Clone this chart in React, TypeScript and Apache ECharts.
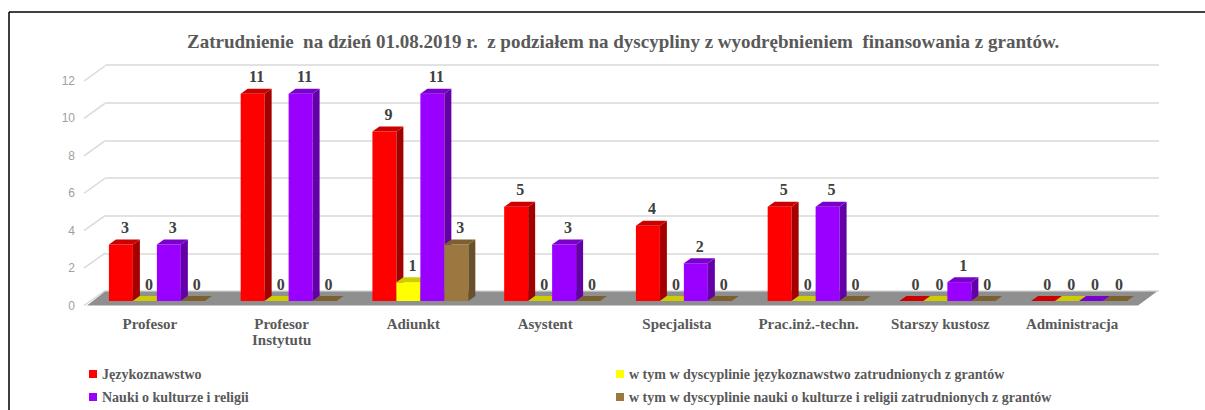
import React, { useEffect, useRef } from "react";
import * as echarts from "echarts";

const titleText =
  "Zatrudnienie  na dzień 01.08.2019 r.  z podziałem na dyscypliny z wyodrębnieniem  finansowania z grantów.";
const categories = [
  "Profesor",
  "Profesor\nInstytutu",
  "Adiunkt",
  "Asystent",
  "Specjalista",
  "Prac.inż.-techn.",
  "Starszy kustosz",
  "Administracja",
];
const seriesNames = [
  "Językoznawstwo",
  "w tym w dyscyplinie językoznawstwo zatrudnionych z grantów",
  "Nauki o kulturze i religii",
  "w tym w dyscyplinie nauki o kulturze i religii zatrudnionych z grantów",
];
const jezykoznawstwo = [3, 11, 9, 5, 4, 5, 0, 0];
const jezykoznawstwoGranty = [0, 0, 1, 0, 0, 0, 0, 0];
const naukiOKulturze = [3, 11, 11, 3, 2, 5, 1, 0];
const naukiOKulturzeGranty = [0, 0, 3, 0, 0, 0, 0, 0];
const yMin = 0;
const yMax = 12;
const yInterval = 2;
const yTicks = [0, 2, 4, 6, 8, 10, 12];

const allValues = [jezykoznawstwo, jezykoznawstwoGranty, naukiOKulturze, naukiOKulturzeGranty];

const FRONT = ["#FF0000", "#FFFF00", "#9900FF", "#9B7840"];
const SIDE = ["#A50000", "#A5A500", "#6300A8", "#69502A"];
const TOP = ["#CC0000", "#CCCC00", "#7A00CC", "#7D6030"];

const SERIF = "'Liberation Serif', 'Times New Roman', serif";

export default function App() {
  const ref = useRef<HTMLDivElement>(null);
  useEffect(() => {
    if (!ref.current) return;
    const chart = echarts.init(ref.current, undefined, { renderer: "svg" });

    const barSeries = allValues.map((vals, k) => ({
      type: "custom",
      name: seriesNames[k],
      coordinateSystem: "cartesian2d",
      xAxisIndex: 0,
      yAxisIndex: 0,
      itemStyle: { color: FRONT[k] },
      encode: { x: 0, y: 1 },
      z: 5,
      data: vals.map((v, i) => [i, v]),
      renderItem: (params: any, api: any) => {
        const ci = api.value(0);
        const v = api.value(1);
        const base = api.coord([ci, 0]);
        const top = api.coord([ci, v]);
        const band = api.size([1, 0])[0];
        const w = band * 0.182;
        const x0 = base[0] + (k - 2) * w;
        const x1 = x0 + w;
        const yb = base[1];
        const yt = top[1];
        const dx = 7;
        const dy = 5;
        const children: any[] = [];
        if (v > 0) {
          children.push({
            type: "rect",
            shape: { x: x0, y: yt, width: w, height: yb - yt },
            style: { fill: FRONT[k] },
          });
          children.push({
            type: "polygon",
            shape: { points: [[x1, yb], [x1 + dx, yb - dy], [x1 + dx, yt - dy], [x1, yt]] },
            style: { fill: SIDE[k] },
          });
        }
        children.push({
          type: "polygon",
          shape: { points: [[x0, yt], [x1, yt], [x1 + dx, yt - dy], [x0 + dx, yt - dy]] },
          style: { fill: TOP[k] },
        });
        children.push({
          type: "text",
          z2: 50,
          style: {
            text: String(v),
            x: x0 + w / 2 + 4,
            y: yt - 17,
            align: "center",
            verticalAlign: "middle",
            fontFamily: SERIF,
            fontWeight: "bold",
            fontSize: 16,
            fill: "#404040",
          },
        });
        return { type: "group", children };
      },
    }));

    const floorSeries = {
      type: "custom",
      coordinateSystem: "cartesian2d",
      xAxisIndex: 2,
      yAxisIndex: 2,
      silent: true,
      z: 1,
      data: [[0, 0]],
      renderItem: (params: any, api: any) => {
        const cs = params.coordSys;
        const b = api.coord([0, 0])[1];
        return {
          type: "polygon",
          shape: {
            points: [
              [cs.x + 3, b],
              [cs.x + cs.width, b],
              [cs.x + cs.width + 19, b - 14],
              [cs.x + 21, b - 14],
            ],
          },
          style: { fill: "#8F8F8F" },
        };
      },
    };

    const tickSeries = {
      type: "custom",
      coordinateSystem: "cartesian2d",
      xAxisIndex: 2,
      yAxisIndex: 2,
      silent: true,
      z: 0,
      data: yTicks.map((t) => [0, t]),
      renderItem: (params: any, api: any) => {
        const cs = params.coordSys;
        const y = api.coord([0, api.value(1)])[1];
        return {
          type: "line",
          shape: { x1: cs.x, y1: y, x2: cs.x + 21, y2: y - 15 },
          style: { stroke: "#D9D9D9", lineWidth: 1.5 },
        };
      },
    };

    const legendText = {
      fontFamily: SERIF,
      fontWeight: "bold",
      fontSize: 14,
      color: "#595959",
      lineHeight: 16,
    };
    const legendPos = [
      { left: 89, top: 366 },
      { left: 616, top: 366 },
      { left: 89, top: 389 },
      { left: 616, top: 389 },
    ];
    const legends = seriesNames.map((n, i) => ({
      ...legendPos[i],
      orient: "horizontal",
      itemWidth: 8,
      itemHeight: 8,
      itemGap: 4,
      icon: "rect",
      padding: 0,
      data: [n],
      textStyle: legendText,
    }));

    chart.setOption({
      animation: false,
      backgroundColor: "#ffffff",
      title: {
        text: titleText,
        left: 187,
        top: 32,
        padding: 0,
        textStyle: { fontFamily: SERIF, fontWeight: "bold", fontSize: 19, color: "#595959" },
      },
      legend: legends,
      grid: [
        { left: 91, right: 60, top: 75, bottom: 109 },
        { left: 105, right: 46, top: 65, bottom: 119 },
        { left: 84, right: 67, top: 81, bottom: 104.5 },
      ],
      xAxis: [
        { type: "category", gridIndex: 0, data: categories, show: false },
        { type: "category", gridIndex: 1, data: categories, show: false },
        {
          type: "category",
          gridIndex: 2,
          data: categories,
          axisLine: { show: false },
          axisTick: { show: false },
          axisLabel: {
            margin: 10,
            fontFamily: SERIF,
            fontWeight: "bold",
            fontSize: 15,
            lineHeight: 16,
            color: "#595959",
            interval: 0,
          },
        },
      ],
      yAxis: [
        { type: "value", gridIndex: 0, min: yMin, max: yMax, interval: yInterval, show: false },
        {
          type: "value",
          gridIndex: 1,
          min: yMin,
          max: yMax,
          interval: yInterval,
          axisLine: { show: false },
          axisTick: { show: false },
          axisLabel: { show: false },
          splitLine: { show: true, lineStyle: { color: "#D9D9D9", width: 1.5 } },
        },
        {
          type: "value",
          gridIndex: 2,
          min: yMin,
          max: yMax,
          interval: yInterval,
          axisLine: { show: false },
          axisTick: { show: false },
          splitLine: { show: false },
          axisLabel: {
            margin: 9,
            fontFamily: "'Liberation Sans', Arial, sans-serif",
            fontSize: 12,
            color: "#A0A0A0",
          },
        },
      ],
      graphic: [
        {
          type: "line",
          shape: { x1: 9, y1: 12, x2: 1205, y2: 12 },
          style: { stroke: "#000000", lineWidth: 1.5 },
        },
        {
          type: "line",
          shape: { x1: 9, y1: 12, x2: 9, y2: 410 },
          style: { stroke: "#000000", lineWidth: 1.5 },
        },
      ],
      series: [tickSeries, floorSeries, ...barSeries],
    });

    return () => chart.dispose();
  }, []);

  return (
    <div
      ref={ref}
      style={{ position: "absolute", left: 0, top: 0, width: 1205, height: 410 }}
    />
  );
}
